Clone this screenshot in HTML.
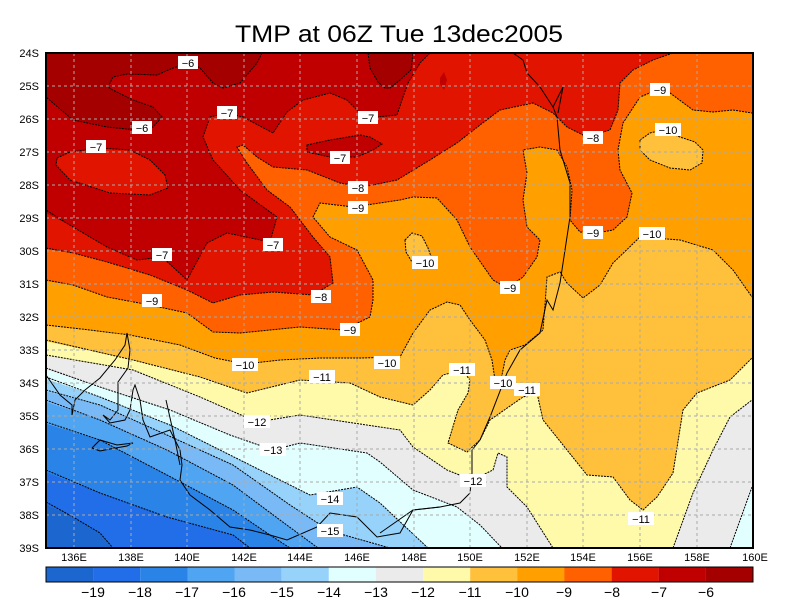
<!DOCTYPE html>
<html><head><meta charset="utf-8"><style>
html,body{margin:0;padding:0;background:#fff;}
svg{display:block;font-family:"Liberation Sans",sans-serif;}
</style></head><body>
<svg width="800" height="600" viewBox="0 0 800 600" xmlns="http://www.w3.org/2000/svg">
<rect width="800" height="600" fill="#fff"/>
<text x="399" y="42" font-size="24" text-anchor="middle" textLength="328" lengthAdjust="spacingAndGlyphs">TMP at 06Z Tue 13dec2005</text>
<defs><clipPath id="c"><rect x="46" y="53" width="707" height="495"/></clipPath></defs>
<g clip-path="url(#c)">
<rect x="46" y="53" width="707" height="495" fill="#1c67cf"/>
<polygon fill="#226de8" points="40,502 73,517 100,533 113,548 760,548 760,40 40,40"/>
<polygon fill="#2a84e8" points="40,470 100,493 167,517 233,535 250,548 760,548 760,40 40,40"/>
<polygon fill="#50a5f2" points="40,422 100,440 167,475 233,510 270,535 290,548 760,548 760,40 40,40"/>
<polygon fill="#78b9f6" points="40,400 100,420 167,450 233,485 280,520 318,548 760,548 760,40 40,40"/>
<polygon fill="#96d2fa" points="40,390 100,405 167,435 233,465 290,505 330,531 390,548 760,548 760,40 40,40"/>
<polygon fill="#e1ffff" points="40,377 100,397 170,425 230,455 280,480 310,495 357,487 380,503 428,548 760,548 760,40 40,40"/>
<polygon fill="#ebebeb" points="40,368 100,387 170,410 230,435 273,450 300,443 367,453 380,462 413,490 457,507 480,525 502,548 730,548 752,487 760,487 760,40 40,40"/>
<polygon fill="#fffaaa" points="40,355 133,370 200,397 257,422 300,415 400,430 413,447 447,470 472,480 493,470 498,453 507,457 507,487 527,507 553,548 673,548 693,493 713,450 730,417 752,400 760,400 760,40 40,40"/>
<polygon fill="#ffc03c" points="40,340 133,360 200,377 247,393 300,380 350,383 380,397 413,405 430,390 443,375 462,370 470,380 468,393 458,410 448,443 467,452 480,440 490,420 523,397 537,393 543,420 567,450 587,475 613,477 630,500 643,510 657,497 673,473 683,410 697,393 730,380 752,358 760,358 760,40 40,40"/>
<polygon fill="#ffa000" points="40,325 90,330 130,335 180,345 215,358 245,364 280,360 320,358 360,358 400,357 413,333 430,310 447,302 460,305 470,320 485,340 492,360 495,380 500,385 505,360 510,350 525,345 543,330 545,305 547,277 560,272 567,283 583,298 600,285 613,263 640,237 680,240 713,250 733,270 752,297 760,297 760,40 40,40"/>
<polygon fill="#ffc03c" points="405,240 412,233 422,236 428,248 433,262 425,266 412,262 406,252"/>
<polygon fill="#ffc03c" points="640,140 650,133 662,130 680,137 695,142 703,150 702,163 690,170 670,168 650,160 640,150"/>
<polygon fill="#ff6000" points="40,280 73,285 107,297 150,305 187,313 213,332 240,333 300,327 343,330 370,317 373,300 373,280 357,250 330,237 313,217 320,203 353,207 400,200 413,197 437,198 457,220 470,247 493,280 507,288 523,277 537,257 540,240 527,227 523,200 527,173 523,150 540,147 557,150 567,167 572,190 570,220 580,232 597,233 613,230 627,217 632,193 620,170 618,150 623,123 640,97 657,90 670,93 693,110 713,112 733,110 752,113 760,113 760,40 40,40"/>
<polygon fill="#e11400" points="40,248 73,253 107,262 150,275 187,290 213,303 240,295 273,292 313,295 333,283 330,257 313,237 290,207 267,190 247,163 237,147 243,145 257,157 273,167 307,170 340,183 363,187 397,180 430,160 457,143 480,125 500,110 533,103 553,113 567,127 587,137 610,130 618,110 620,83 633,70 653,60 673,53 673,40 40,40"/>
<polygon fill="#c00000" points="40,40 430,40 430,53 420,63 408,83 403,97 397,115 377,117 360,113 347,100 330,93 303,100 287,112 273,133 243,117 227,113 210,117 203,137 213,160 240,190 277,217 270,242 227,233 207,243 187,280 162,257 137,260 107,247 73,227 40,210"/>
<polygon fill="#e11400" points="57,158 70,152 100,148 130,150 150,160 165,175 168,188 150,195 110,193 70,180 56,165"/>
<polygon fill="#c00000" points="307,145 330,140 360,135 370,137 382,144 373,150 357,157 330,157 307,152"/>
<polygon fill="#c00000" points="440,78 444,72 447,80 444,90 440,84"/>
<polygon fill="#a50000" points="40,40 262,40 262,53 257,63 240,83 223,88 213,83 200,68 190,63 173,68 157,75 127,74 113,77 108,87 113,90 133,100 153,107 162,117 153,127 137,130 107,127 73,120 47,97 40,97"/>
<polygon fill="#a50000" points="368,53 413,53 411,70 400,80 390,88 385,88 378,82 370,68"/>
</g>
<g clip-path="url(#c)" fill="none" stroke="#000" stroke-width="1" stroke-dasharray="2,1">
<polyline points="46,502 73,517 100,533 113,548"/>
<polyline points="46,470 100,493 167,517 233,535 250,548"/>
<polyline points="46,422 100,440 167,475 233,510 270,535 290,548"/>
<polyline points="46,400 100,420 167,450 233,485 280,520 318,548"/>
<polyline points="46,390 100,405 167,435 233,465 290,505 330,531 390,548"/>
<polyline points="46,377 100,397 170,425 230,455 280,480 310,495 357,487 380,503 428,548"/>
<polyline points="46,368 100,387 170,410 230,435 273,450 300,443 367,453 380,462 413,490 457,507 480,525 502,548"/>
<polyline points="730,548 752,487"/>
<polyline points="46,355 133,370 200,397 257,422 300,415 400,430 413,447 447,470 472,480 493,470 498,453 507,457 507,487 527,507 553,548"/>
<polyline points="673,548 693,493 713,450 730,417 752,400"/>
<polyline points="46,340 133,360 200,377 247,393 300,380 350,383 380,397 413,405 430,390 443,375 462,370 470,380 468,393 458,410 448,443 467,452 480,440 490,420 523,397 537,393 543,420 567,450 587,475 613,477 630,500 643,510 657,497 673,473 683,410 697,393 730,380 752,358"/>
<polyline points="46,325 90,330 130,335 180,345 215,358 245,364 280,360 320,358 360,358 400,357 413,333 430,310 447,302 460,305 470,320 485,340 492,360 495,380 500,385 505,360 510,350 525,345 543,330 545,305 547,277 560,272 567,283 583,298 600,285 613,263 640,237 680,240 713,250 733,270 752,297"/>
<polygon points="405,240 412,233 422,236 428,248 433,262 425,266 412,262 406,252"/>
<polygon points="640,140 650,133 662,130 680,137 695,142 703,150 702,163 690,170 670,168 650,160 640,150"/>
<polyline points="46,280 73,285 107,297 150,305 187,313 213,332 240,333 300,327 343,330 370,317 373,300 373,280 357,250 330,237 313,217 320,203 353,207 400,200 413,197 437,198 457,220 470,247 493,280 507,288 523,277 537,257 540,240 527,227 523,200 527,173 523,150 540,147 557,150 567,167 572,190 570,220 580,232 597,233 613,230 627,217 632,193 620,170 618,150 623,123 640,97 657,90 670,93 693,110 713,112 733,110 752,113"/>
<polyline points="46,248 73,253 107,262 150,275 187,290 213,303 240,295 273,292 313,295 333,283 330,257 313,237 290,207 267,190 247,163 237,147 243,145 257,157 273,167 307,170 340,183 363,187 397,180 430,160 457,143 480,125 500,110 533,103 553,113 567,127 587,137 610,130 618,110 620,83 633,70 653,60 673,53"/>
<polyline points="430,53 420,63 408,83 403,97 397,115 377,117 360,113 347,100 330,93 303,100 287,112 273,133 243,117 227,113 210,117 203,137 213,160 240,190 277,217 270,242 227,233 207,243 187,280 162,257 137,260 107,247 73,227 46,210"/>
<polygon points="57,158 70,152 100,148 130,150 150,160 165,175 168,188 150,195 110,193 70,180 56,165"/>
<polygon points="307,145 330,140 360,135 370,137 382,144 373,150 357,157 330,157 307,152"/>
<polyline points="262,53 257,63 240,83 223,88 213,83 200,68 190,63 173,68 157,75 127,74 113,77 108,87 113,90 133,100 153,107 162,117 153,127 137,130 107,127 73,120 46,97"/>
<polyline points="368,53 370,68 378,82 385,88 390,88 400,80 411,70 413,53"/>
</g>
<g clip-path="url(#c)" fill="none" stroke="#000" stroke-width="1">
<polyline points="513,53 523,60 527,73 540,87 553,107 557,117 560,150 570,183 570,217 565,250 560,283 553,310 547,300 540,333 520,350 507,373 490,417 480,440 472,450 472,473 470,493 460,503 440,507 413,510 400,533 377,537 357,517 330,513 317,527 287,540 270,535 250,530 230,527 210,510 190,495 180,480 182,465 180,450 170,430 150,437 143,420 140,400 135,385 133,390 130,410 125,420 110,423 103,415 110,420 118,410 118,382 128,368 130,350 127,333 125,345 115,360 100,378 85,390 75,400 72,415 72,405 60,395 46,375"/>
<polyline points="553,107 563,87 558,113"/>
<polyline points="92,448 100,440 117,445 133,443 127,446 110,449 100,451 92,448"/>
<polyline points="380,533 413,510 440,507"/>
<polyline points="166,400 175,440 180,465"/>
</g>
<g stroke="#aaa" stroke-width="1" stroke-dasharray="3,3" fill="none">
<path d="M74,53V548M131,53V548M187,53V548M244,53V548M300,53V548M357,53V548M414,53V548M470,53V548M527,53V548M583,53V548M640,53V548M697,53V548"/>
<path d="M46,86H753M46,119H753M46,152H753M46,185H753M46,218H753M46,251H753M46,284H753M46,317H753M46,350H753M46,383H753M46,416H753M46,449H753M46,482H753M46,515H753"/>
</g>
<g font-size="11" fill="#000">
<g fill="#fff"><rect x="178" y="56" width="20" height="13"/><rect x="132" y="121" width="20" height="13"/><rect x="86" y="140" width="20" height="13"/><rect x="217" y="106" width="20" height="13"/><rect x="358" y="111" width="20" height="13"/><rect x="330" y="151" width="20" height="13"/><rect x="152" y="248" width="20" height="13"/><rect x="263" y="238" width="20" height="13"/><rect x="348" y="181" width="20" height="13"/><rect x="311" y="290" width="20" height="13"/><rect x="583" y="131" width="20" height="13"/><rect x="348" y="201" width="20" height="13"/><rect x="142" y="294" width="20" height="13"/><rect x="340" y="323" width="20" height="13"/><rect x="500" y="281" width="20" height="13"/><rect x="583" y="226" width="20" height="13"/><rect x="650" y="83" width="20" height="13"/><rect x="412" y="256" width="26" height="13"/><rect x="655" y="123" width="26" height="13"/><rect x="639" y="227" width="26" height="13"/><rect x="232" y="358" width="26" height="13"/><rect x="374" y="356" width="26" height="13"/><rect x="490" y="376" width="26" height="13"/><rect x="309" y="370" width="26" height="13"/><rect x="449" y="363" width="26" height="13"/><rect x="514" y="383" width="26" height="13"/><rect x="628" y="512" width="26" height="13"/><rect x="244" y="415" width="26" height="13"/><rect x="460" y="474" width="26" height="13"/><rect x="260" y="443" width="26" height="13"/><rect x="317" y="492" width="26" height="13"/><rect x="317" y="524" width="26" height="13"/></g>
<g text-anchor="middle">
<text x="188" y="67">−6</text><text x="142" y="132">−6</text><text x="96" y="151">−7</text><text x="227" y="117">−7</text><text x="368" y="122">−7</text><text x="340" y="162">−7</text><text x="162" y="259">−7</text><text x="273" y="249">−7</text><text x="358" y="192">−8</text><text x="321" y="301">−8</text><text x="593" y="142">−8</text><text x="358" y="212">−9</text><text x="152" y="305">−9</text><text x="350" y="334">−9</text><text x="510" y="292">−9</text><text x="593" y="237">−9</text><text x="660" y="94">−9</text><text x="425" y="267">−10</text><text x="668" y="134">−10</text><text x="652" y="238">−10</text><text x="245" y="369">−10</text><text x="387" y="367">−10</text><text x="503" y="387">−10</text><text x="322" y="381">−11</text><text x="462" y="374">−11</text><text x="527" y="394">−11</text><text x="641" y="523">−11</text><text x="257" y="426">−12</text><text x="473" y="485">−12</text><text x="273" y="454">−13</text><text x="330" y="503">−14</text><text x="330" y="535">−15</text>
</g>
</g>
<rect x="46" y="53" width="707" height="495" fill="none" stroke="#000" stroke-width="2"/>
<g font-size="11" text-anchor="end">
<text x="39" y="57">24S</text><text x="39" y="90">25S</text><text x="39" y="123">26S</text><text x="39" y="156">27S</text><text x="39" y="189">28S</text><text x="39" y="222">29S</text><text x="39" y="255">30S</text><text x="39" y="288">31S</text><text x="39" y="321">32S</text><text x="39" y="354">33S</text><text x="39" y="387">34S</text><text x="39" y="420">35S</text><text x="39" y="453">36S</text><text x="39" y="486">37S</text><text x="39" y="519">38S</text><text x="39" y="552">39S</text>
</g>
<g font-size="11" text-anchor="middle">
<text x="74" y="561">136E</text><text x="131" y="561">138E</text><text x="187" y="561">140E</text><text x="244" y="561">142E</text><text x="300" y="561">144E</text><text x="357" y="561">146E</text><text x="414" y="561">148E</text><text x="470" y="561">150E</text><text x="527" y="561">152E</text><text x="583" y="561">154E</text><text x="640" y="561">156E</text><text x="697" y="561">158E</text><text x="755" y="561">160E</text>
</g>
<g>
<rect x="46" y="567" width="47.2" height="15" fill="#1c67cf"/><rect x="93.1" y="567" width="47.2" height="15" fill="#226de8"/><rect x="140.3" y="567" width="47.2" height="15" fill="#2a84e8"/><rect x="187.4" y="567" width="47.2" height="15" fill="#50a5f2"/><rect x="234.5" y="567" width="47.2" height="15" fill="#78b9f6"/><rect x="281.7" y="567" width="47.2" height="15" fill="#96d2fa"/><rect x="328.8" y="567" width="47.2" height="15" fill="#e1ffff"/><rect x="375.9" y="567" width="47.2" height="15" fill="#ebebeb"/><rect x="423" y="567" width="47.2" height="15" fill="#fffaaa"/><rect x="470.2" y="567" width="47.2" height="15" fill="#ffc03c"/><rect x="517.3" y="567" width="47.2" height="15" fill="#ffa000"/><rect x="564.4" y="567" width="47.2" height="15" fill="#ff6000"/><rect x="611.6" y="567" width="47.2" height="15" fill="#e11400"/><rect x="658.7" y="567" width="47.2" height="15" fill="#c00000"/><rect x="705.8" y="567" width="47.2" height="15" fill="#a50000"/>
<rect x="46" y="567" width="707" height="15" fill="none" stroke="#000" stroke-width="1"/>
</g>
<g font-size="14" text-anchor="middle">
<text x="93" y="597">−19</text><text x="140" y="597">−18</text><text x="187" y="597">−17</text><text x="234" y="597">−16</text><text x="282" y="597">−15</text><text x="329" y="597">−14</text><text x="376" y="597">−13</text><text x="423" y="597">−12</text><text x="470" y="597">−11</text><text x="517" y="597">−10</text><text x="564" y="597">−9</text><text x="612" y="597">−8</text><text x="659" y="597">−7</text><text x="706" y="597">−6</text>
</g>
</svg>
</body></html>
